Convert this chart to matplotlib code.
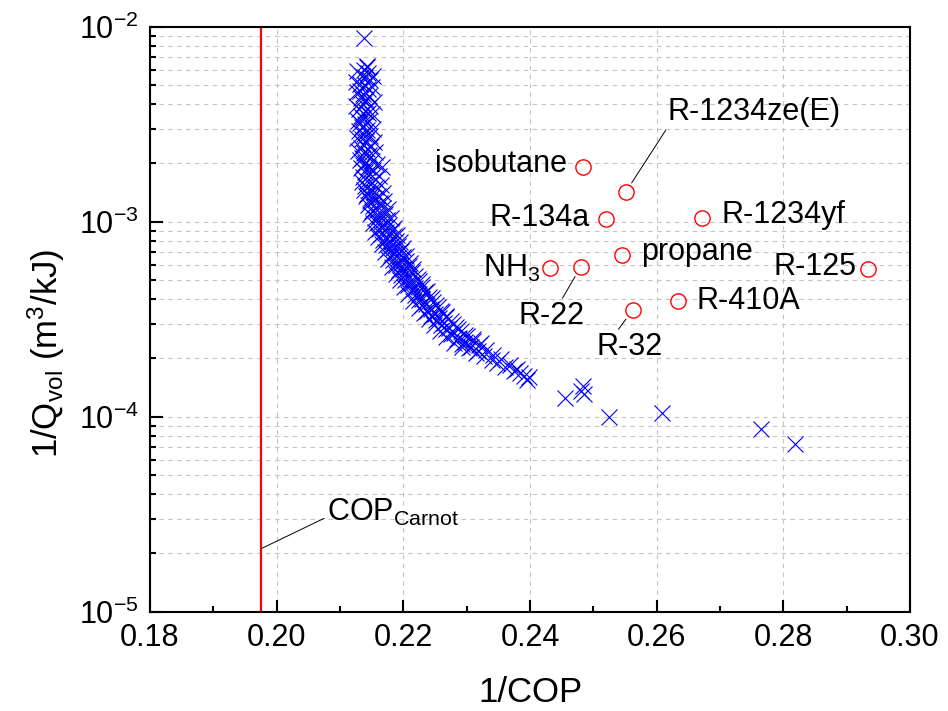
import numpy as numpy
import matplotlib
matplotlib.use("Agg")
import matplotlib.pyplot as pyplot
from matplotlib.ticker import MultipleLocator, FormatStrFormatter, LogLocator

# optimised cycles (blue crosses)
cycle_x = [0.2138, 0.2143,
           0.2142, 0.2138, 0.2145, 0.2134, 0.2140, 0.2147, 0.2132, 0.2139, 0.2144, 0.2131,
           0.2137, 0.2146, 0.2133, 0.2141, 0.2136, 0.2148, 0.2130, 0.2139, 0.2144, 0.2133,
           0.2137, 0.2146, 0.2131, 0.2140, 0.2135, 0.2143, 0.2130, 0.2138, 0.2147, 0.2134,
           0.2141, 0.2136, 0.2149,
           0.2133, 0.2142, 0.2138, 0.2146, 0.2135, 0.2150, 0.2140, 0.2136, 0.2145, 0.2152,
           0.2139, 0.2147, 0.2137, 0.2155, 0.2143, 0.2150, 0.2140, 0.2157, 0.2146, 0.2153,
           0.2143, 0.2160, 0.2149, 0.2156, 0.2147, 0.2166,
           0.2163, 0.2152, 0.2168, 0.2158, 0.2150, 0.2171, 0.2162, 0.2155, 0.2175, 0.2165,
           0.2158, 0.2178, 0.2168, 0.2161, 0.2182, 0.2172, 0.2165, 0.2185, 0.2175, 0.2168,
           0.2188,
           0.2179, 0.2172, 0.2192, 0.2183, 0.2176, 0.2196, 0.2187, 0.2180, 0.2200, 0.2191,
           0.2184, 0.2205, 0.2195, 0.2188, 0.2209, 0.2199, 0.2193, 0.2214, 0.2204, 0.2197,
           0.2219, 0.2209, 0.2202,
           0.2224, 0.2214, 0.2207, 0.2229, 0.2219, 0.2213, 0.2235, 0.2225, 0.2218, 0.2241,
           0.2230, 0.2224, 0.2247, 0.2236, 0.2230, 0.2254, 0.2243, 0.2237, 0.2261, 0.2250,
           0.2244, 0.2268, 0.2257,
           0.2252, 0.2275, 0.2264, 0.2259, 0.2283, 0.2272, 0.2267, 0.2291, 0.2280, 0.2275,
           0.2300, 0.2288, 0.2284, 0.2310, 0.2297, 0.2293, 0.2320, 0.2307, 0.2303,
           0.2330, 0.2318, 0.2314, 0.2342, 0.2328, 0.2355, 0.2340, 0.2348, 0.2368, 0.2360,
           0.2375, 0.2380, 0.2384, 0.2390, 0.2395, 0.2398,
           0.2455, 0.2480, 0.2484, 0.2486, 0.2524, 0.2608, 0.2765, 0.2818,
           # outer edges of the band
           0.2127, 0.2152, 0.2126, 0.2151, 0.2127, 0.2153, 0.2126, 0.2150, 0.2128, 0.2152,
           0.2127, 0.2154,
           0.2129, 0.2156, 0.2131, 0.2159, 0.2133, 0.2162, 0.2135, 0.2165, 0.2138, 0.2168,
           0.2141, 0.2170,
           0.2145, 0.2176, 0.2148, 0.2181, 0.2152, 0.2186, 0.2156, 0.2190, 0.2160, 0.2194,
           0.2166, 0.2199, 0.2171, 0.2204, 0.2176, 0.2210, 0.2182, 0.2216, 0.2188, 0.2223,
           0.2194,
           0.2230, 0.2201, 0.2237, 0.2208, 0.2245, 0.2216, 0.2252, 0.2224, 0.2260, 0.2232,
           0.2268,
           0.2240, 0.2278, 0.2249, 0.2287, 0.2258, 0.2298, 0.2268, 0.2310, 0.2280, 0.2322,
           0.2292]
cycle_y = [8.7e-3, 6.25e-3,
           6.2e-3, 6.0e-3, 5.8e-3, 5.6e-3, 5.5e-3, 5.3e-3, 5.1e-3, 5.0e-3, 4.8e-3, 4.7e-3,
           4.5e-3, 4.4e-3, 4.3e-3, 4.2e-3, 4.0e-3, 3.9e-3, 3.8e-3, 3.7e-3, 3.6e-3, 3.5e-3,
           3.4e-3, 3.3e-3, 3.2e-3, 3.15e-3, 3.05e-3, 2.95e-3, 2.9e-3, 2.8e-3, 2.75e-3, 2.65e-3,
           2.6e-3, 2.5e-3, 2.45e-3,
           2.4e-3, 2.35e-3, 2.25e-3, 2.2e-3, 2.12e-3, 2.05e-3, 2.0e-3, 1.95e-3, 1.9e-3, 1.85e-3,
           1.8e-3, 1.75e-3, 1.7e-3, 1.66e-3, 1.62e-3, 1.57e-3, 1.53e-3, 1.5e-3, 1.46e-3, 1.42e-3,
           1.39e-3, 1.36e-3, 1.33e-3, 1.3e-3, 1.27e-3, 1.9e-3,
           1.24e-3, 1.21e-3, 1.18e-3, 1.15e-3, 1.13e-3, 1.1e-3, 1.07e-3, 1.05e-3, 1.02e-3, 1.0e-3,
           9.8e-4, 9.6e-4, 9.4e-4, 9.2e-4, 9.0e-4, 8.8e-4, 8.6e-4, 8.4e-4, 8.25e-4, 8.1e-4,
           7.95e-4,
           7.8e-4, 7.6e-4, 7.5e-4, 7.35e-4, 7.2e-4, 7.05e-4, 6.9e-4, 6.75e-4, 6.6e-4, 6.5e-4,
           6.35e-4, 6.25e-4, 6.1e-4, 6.0e-4, 5.9e-4, 5.75e-4, 5.65e-4, 5.55e-4, 5.45e-4, 5.35e-4,
           5.25e-4, 5.15e-4, 5.05e-4,
           4.95e-4, 4.85e-4, 4.75e-4, 4.65e-4, 4.55e-4, 4.45e-4, 4.37e-4, 4.28e-4, 4.2e-4, 4.1e-4,
           4.02e-4, 3.95e-4, 3.87e-4, 3.8e-4, 3.72e-4, 3.65e-4, 3.58e-4, 3.5e-4, 3.45e-4, 3.38e-4,
           3.3e-4, 3.25e-4, 3.2e-4,
           3.14e-4, 3.08e-4, 3.02e-4, 2.96e-4, 2.9e-4, 2.85e-4, 2.8e-4, 2.74e-4, 2.69e-4, 2.64e-4,
           2.59e-4, 2.54e-4, 2.49e-4, 2.45e-4, 2.41e-4, 2.36e-4, 2.32e-4, 2.28e-4, 2.24e-4,
           2.2e-4, 2.16e-4, 2.12e-4, 2.08e-4, 2.05e-4, 1.98e-4, 1.95e-4, 1.88e-4, 1.85e-4, 1.8e-4,
           1.72e-4, 1.76e-4, 1.68e-4, 1.62e-4, 1.54e-4, 1.6e-4,
           1.25e-4, 1.36e-4, 1.43e-4, 1.31e-4, 1.0e-4, 1.05e-4, 8.65e-5, 7.25e-5,
           # outer edges of the band
           5.9e-3, 5.6e-3, 5.2e-3, 4.9e-3, 4.6e-3, 4.1e-3, 3.9e-3, 3.55e-3, 3.3e-3, 3.0e-3,
           2.7e-3, 2.55e-3,
           2.3e-3, 2.28e-3, 2.08e-3, 1.98e-3, 1.88e-3, 1.72e-3, 1.6e-3, 1.55e-3, 1.45e-3, 1.4e-3,
           1.35e-3, 1.28e-3,
           1.22e-3, 1.16e-3, 1.09e-3, 1.04e-3, 9.9e-4, 9.3e-4, 8.9e-4, 8.5e-4, 8.3e-4, 7.9e-4,
           7.7e-4, 7.3e-4, 7.0e-4, 6.7e-4, 6.4e-4, 6.15e-4, 5.85e-4, 5.7e-4, 5.4e-4, 5.1e-4,
           5.0e-4,
           4.8e-4, 4.6e-4, 4.4e-4, 4.25e-4, 4.05e-4, 3.9e-4, 3.75e-4, 3.6e-4, 3.5e-4, 3.4e-4,
           3.3e-4,
           3.15e-4, 3.0e-4, 2.95e-4, 2.8e-4, 2.75e-4, 2.62e-4, 2.55e-4, 2.5e-4, 2.4e-4, 2.38e-4,
           2.27e-4]

# real refrigerants (red circles)
ref_names = ["isobutane", "R-1234ze(E)", "R-134a", "R-1234yf", "propane",
             "NH$_3$", "R-22", "R-125", "R-410A", "R-32"]
ref_x = [0.2483, 0.2551, 0.2520, 0.2671, 0.2546, 0.2432, 0.2480, 0.2934, 0.2633, 0.2562]
ref_y = [1.91e-3, 1.415e-3, 1.03e-3, 1.05e-3, 6.72e-4, 5.77e-4, 5.86e-4, 5.70e-4, 3.93e-4, 3.52e-4]

carnot = 0.1975

# label placement: offset in pixels, alignment, connector
label_style = {
    "isobutane":   dict(off=(-16, -5), ha="right", line=None),
    "R-1234ze(E)": dict(off=(42, 72), ha="left", line=(0, 0)),
    "R-134a":      dict(off=(-16, -7), ha="right", line=None),
    "R-1234yf":    dict(off=(20, -5), ha="left", line=None),
    "propane":     dict(off=(19, -5), ha="left", line=None),
    "NH$_3$":      dict(off=(-10, -9), ha="right", line=None),
    "R-22":        dict(off=(-62, -57), ha="left", line=(0.64, 1)),
    "R-125":       dict(off=(-12, -6), ha="right", line=None),
    "R-410A":      dict(off=(19, -8), ha="left", line=None),
    "R-32":        dict(off=(-36, -45), ha="left", line=(0.3, 1)),
}

pyplot.rcParams["font.family"] = ["Liberation Sans", "DejaVu Sans"]
pyplot.rcParams["mathtext.default"] = "regular"

fig = pyplot.figure(figsize=(9.48, 7.11), dpi=100)
ax = fig.add_axes([0.1582, 0.1397, 0.8017, 0.8228])

ax.set_xlim(0.18, 0.30)
ax.set_yscale("log")
ax.set_ylim(1e-5, 1e-2)

ax.grid(True, which="major", axis="x", color="#c4c4c4", linestyle=(0, (4, 4)), linewidth=0.8)
ax.grid(True, which="both", axis="y", color="#c4c4c4", linestyle=(0, (4, 4)), linewidth=0.8)
ax.set_axisbelow(True)

ax.axvline(carnot, color="red", linewidth=1.6)

ax.plot(cycle_x, cycle_y, linestyle="none", marker="x", markersize=12,
        markeredgewidth=0.8, color="blue")

ax.plot(ref_x, ref_y, linestyle="none", marker="o", markersize=11,
        markerfacecolor="none", markeredgecolor="red", markeredgewidth=1.0)

for name, x, y in zip(ref_names, ref_x, ref_y):
    st = label_style[name]
    arrow = None
    if st["line"] is not None:
        arrow = dict(arrowstyle="-", color="black", linewidth=0.7,
                     shrinkA=0, shrinkB=8, relpos=st["line"])
    ax.annotate(name, xy=(x, y), xytext=st["off"], textcoords="offset pixels",
                ha=st["ha"], va="baseline", fontsize=22, arrowprops=arrow)

ax.annotate("COP$_{Carnot}$", xy=(carnot, 2.1e-5), xytext=(66, 28),
            textcoords="offset pixels", ha="left", va="baseline", fontsize=22,
            arrowprops=dict(arrowstyle="-", color="black", linewidth=0.7,
                            shrinkA=0, shrinkB=0, relpos=(0, 0.35)))

ax.xaxis.set_major_locator(MultipleLocator(0.02))
ax.xaxis.set_minor_locator(MultipleLocator(0.01))
ax.xaxis.set_major_formatter(FormatStrFormatter("%.2f"))
ax.yaxis.set_major_locator(LogLocator(base=10))
ax.yaxis.set_minor_locator(LogLocator(base=10, subs=numpy.arange(2, 10)))

ax.tick_params(which="major", direction="in", length=9, width=1.5, labelsize=22, pad=8)
ax.tick_params(which="minor", direction="in", length=4.5, width=1.5)
ax.tick_params(which="both", top=False, right=False)

for sp in ax.spines.values():
    sp.set_linewidth(1.5)

ax.set_xlabel("1/COP", fontsize=25)
ax.set_ylabel("1/Q$_{vol}$ (m$^3$/kJ)", fontsize=25)
ax.xaxis.set_label_coords(0.5, -0.11)
ax.yaxis.set_label_coords(-0.109, 0.442)

fig.savefig("out.png", dpi=100)
